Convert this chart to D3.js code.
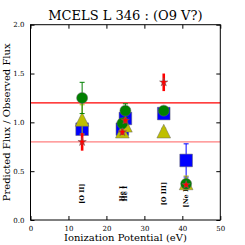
<!DOCTYPE html>
<html>
<head>
<meta charset="utf-8">
<script src="https://cdn.jsdelivr.net/npm/d3@7"></script>
<style>
  body { margin: 0; background: white; }
  svg { display: block; }
  text { font-family: "DejaVu Serif", serif; }
</style>
</head>
<body>
<div id="chart"></div>
<script>
// line labels and ionization potentials (eV)
var ions = ["[O II]", "He I", "He I", "[O III]", "[Ne III]"];
var ip = [13.6, 24.2, 25.0, 35.1, 41.0];

// predicted / observed ratios, one array per model
var squareVals = [0.93, 0.93, 1.04, 1.09, 0.61];
var squareErr = [0.03, 0.03, 0.03, 0.03, 0.17];
var triVals = [1.03, 0.91, 0.97, 0.91, 0.38];
var triErr = [0.15, 0.03, 0.03, 0.03, 0.07];
var circVals = [1.25, 0.99, 1.12, 1.12, 0.37];
var circErr = [0.16, 0.05, 0.07, 0.02, 0.03];
var starVals = [0.80, 0.90, 1.02, 1.41, 0.36];
var starErr = [0.09, 0.03, 0.03, 0.09, 0.02];

var limits = [1.2, 0.8];
var xTicks = [0, 10, 20, 30, 40, 50];
var yTicks = [0.0, 0.5, 1.0, 1.5, 2.0];

var width = 245, height = 245;
var margins = [30.5, 24.7, 24.7, 25]; // left, right, top, bottom

var svg = d3.select("#chart").append("svg")
    .attr("width", width)
    .attr("height", height)
    .style("background-color", "white");

var x = d3.scaleLinear().domain([0, 50]).range([margins[0], width - margins[1]]);
var y = d3.scaleLinear().domain([0, 2]).range([height - margins[3], margins[2]]);

// reference lines
svg.selectAll(".limit")
    .data(limits)
    .enter().append("line")
    .attr("class", "limit")
    .attr("x1", x(0)).attr("x2", x(50))
    .attr("y1", function(d) { return y(d); })
    .attr("y2", function(d) { return y(d); })
    .attr("stroke", function(d, i) { return i == 0 ? "#ff0000" : "#ff7f7f"; })
    .attr("stroke-width", 1.3);

// ion labels
svg.selectAll(".ion")
    .data(ions)
    .enter().append("text")
    .attr("class", "ion")
    .attr("transform", function(d, i) { return "translate(" + x(ip[i]) + "," + y(0.27) + ") rotate(-90)"; })
    .attr("text-anchor", "middle")
    .attr("dominant-baseline", "central")
    .style("font-size", "6.5px")
    .style("font-weight", "bold")
    .text(function(d) { return d; });

function drawSeries(vals, errs, color, symbol, size, barWidth) {
    var g = svg.append("g");
    g.selectAll(".err")
        .data(vals)
        .enter().append("line")
        .attr("x1", function(d, i) { return x(ip[i]); })
        .attr("x2", function(d, i) { return x(ip[i]); })
        .attr("y1", function(d, i) { return y(d - errs[i]); })
        .attr("y2", function(d, i) { return y(d + errs[i]); })
        .attr("stroke", color)
        .attr("stroke-width", barWidth);
    if (barWidth < 2) {
        [-1, 1].forEach(function(s) {
            g.selectAll(".cap" + s)
                .data(vals)
                .enter().append("line")
                .attr("x1", function(d, i) { return x(ip[i]) - 2.5; })
                .attr("x2", function(d, i) { return x(ip[i]) + 2.5; })
                .attr("y1", function(d, i) { return y(d + s * errs[i]); })
                .attr("y2", function(d, i) { return y(d + s * errs[i]); })
                .attr("stroke", color)
                .attr("stroke-width", 1);
        });
    }
    g.selectAll(".mark")
        .data(vals)
        .enter().append("path")
        .attr("transform", function(d, i) { return "translate(" + x(ip[i]) + "," + y(d) + ")"; })
        .attr("d", d3.symbol().type(symbol).size(size))
        .attr("fill", color)
        .attr("stroke", "#666")
        .attr("stroke-width", 0.5);
}

var triUp = {
    draw: function(ctx, size) {
        var h = Math.sqrt(size) * 1.05;
        ctx.moveTo(0, -h / 2);
        ctx.lineTo(h / 2, h / 2);
        ctx.lineTo(-h / 2, h / 2);
        ctx.closePath();
    }
};

drawSeries(squareVals, squareErr, "#0000ff", d3.symbolSquare, 160, 1);
drawSeries(triVals, triErr, "#bfbf00", triUp, 170, 1);
drawSeries(circVals, circErr, "#008000", d3.symbolCircle, 95, 1);
drawSeries(starVals, starErr, "#ff0000", d3.symbolStar, 22, 2.6);

// axes
var xAxis = d3.axisBottom(x).tickValues(xTicks).tickSizeInner(-4).tickSizeOuter(0).tickPadding(6);
var yAxis = d3.axisLeft(y).tickValues(yTicks).tickFormat(d3.format(".1f")).tickSizeInner(-4).tickSizeOuter(0).tickPadding(6);

svg.append("g")
    .attr("class", "axis xAxis")
    .attr("transform", "translate(0," + y(0) + ")")
    .call(xAxis);
svg.append("g")
    .attr("class", "axis yAxis")
    .attr("transform", "translate(" + x(0) + ",0)")
    .call(yAxis);
svg.append("g")
    .attr("transform", "translate(0," + y(2) + ")")
    .call(d3.axisTop(x).tickValues(xTicks).tickSizeInner(-4).tickSizeOuter(0).tickFormat(""));
svg.append("g")
    .attr("transform", "translate(" + x(50) + ",0)")
    .call(d3.axisRight(y).tickValues(yTicks).tickSizeInner(-4).tickSizeOuter(0).tickFormat(""));

svg.selectAll(".domain").remove();
svg.selectAll(".tick text").style("font-size", "7px").style("font-family", "DejaVu Serif, serif");

svg.append("rect")
    .attr("x", x(0)).attr("y", y(2))
    .attr("width", x(50) - x(0)).attr("height", y(0) - y(2))
    .attr("fill", "none")
    .attr("stroke", "black")
    .attr("stroke-width", 1);

// titles
svg.append("text")
    .attr("x", (x(0) + x(50)) / 2)
    .attr("y", 19.5)
    .attr("text-anchor", "middle")
    .style("font-size", "13px")
    .text("MCELS L 346 : (O9 V?)");

svg.append("text")
    .attr("x", (x(0) + x(50)) / 2)
    .attr("y", 241)
    .attr("text-anchor", "middle")
    .style("font-size", "10px")
    .text("Ionization Potential (eV)");

svg.append("text")
    .attr("transform", "translate(10," + y(1) + ") rotate(-90)")
    .attr("text-anchor", "middle")
    .style("font-size", "10px")
    .text("Predicted Flux / Observed Flux");
</script>
</body>
</html>
